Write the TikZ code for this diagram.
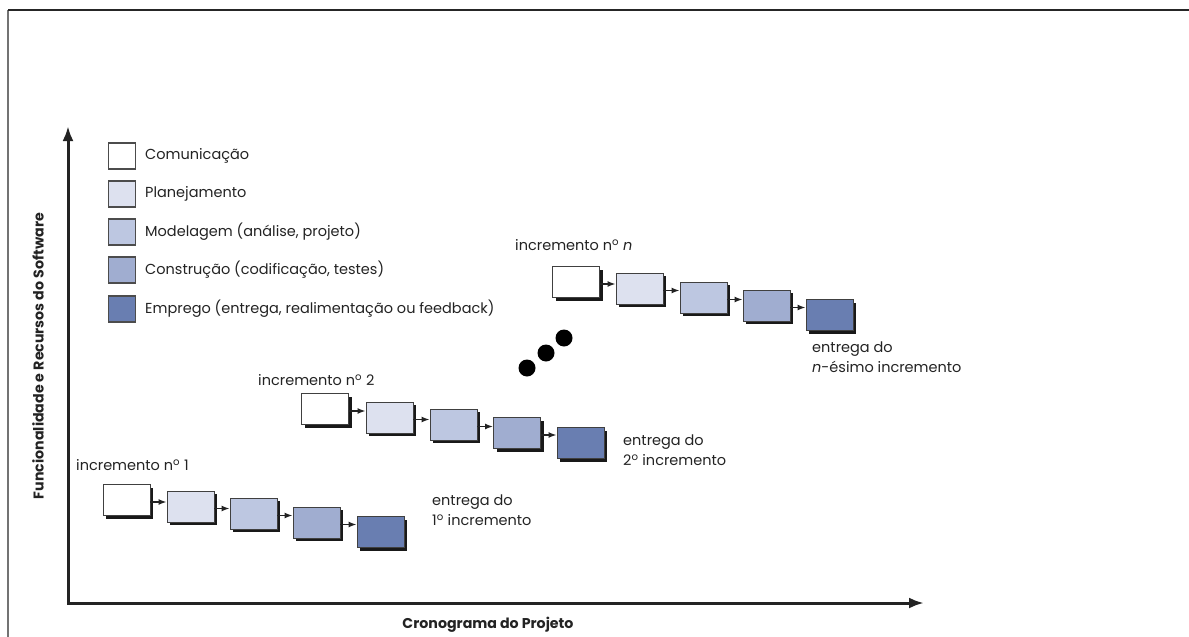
\documentclass[tikz,border=0pt]{standalone}
\usepackage{fontspec}
\setmainfont{Poppins}
\usetikzlibrary{arrows.meta,shadows,calc}

\definecolor{comm}{RGB}{255,255,255}
\definecolor{plan}{RGB}{221,225,239}
\definecolor{model}{RGB}{189,199,225}
\definecolor{constr}{RGB}{160,173,208}
\definecolor{deploy}{RGB}{105,126,177}
\definecolor{ink}{RGB}{35,35,35}

\begin{document}
\begin{tikzpicture}[x=1pt,y=-1pt,
  every node/.style={font=\fontsize{14.5}{20}\selectfont, text=ink},
  phase/.style={draw=black!75, line width=0.9pt, minimum width=47pt, minimum height=31pt,
    inner sep=0pt, drop shadow={shadow xshift=3pt, shadow yshift=-3pt, fill=black!90, opacity=1}},
  key/.style={draw=black!70, line width=1.1pt, minimum width=27pt, minimum height=26pt, inner sep=0pt},
  keytext/.style={anchor=west, inner sep=0pt},
  link/.style={line width=1.5pt, draw=ink, -{Latex[length=8pt,width=6pt]}},
  axis/.style={line width=3pt, draw=ink, {Latex[length=15pt,width=11pt]}-{Latex[length=15pt,width=11pt]}},
  frameline/.style={line width=1.5pt},
  caption/.style={anchor=west, inner sep=0pt},
  delivery/.style={anchor=north west, align=left, inner sep=0pt},
  axislabel/.style={font=\fontsize{14.2}{17}\selectfont\bfseries},
  dot/.style={circle, fill=black, inner sep=0pt, minimum size=17pt}
]
\useasboundingbox (0,0) rectangle (1189,637);

% frame
\draw[frameline, black!55] (8,637) -- (8,10);
\draw[frameline, black!85] (8,10) -- (1189,10);

% axes
\coordinate (ytop) at (68,126);
\coordinate (origin) at (68,603);
\coordinate (xend) at (924,603);
\draw[axis] (ytop) -- (origin) -- (xend);
\node[axislabel] (xlab) at (488,625) {Cronograma do Projeto};
\node[axislabel, rotate=90] (ylab) at (38,356) {Funcionalidade e Recursos do Software};

% legend
\foreach \k/\y/\c/\t in {1/156/comm/Comunicação, 2/194/plan/Planejamento,
    3/232/model/{Modelagem (análise, projeto)}, 4/270/constr/{Construção (codificação, testes)},
    5/309/deploy/{Emprego (entrega, realimentação ou feedback)}}{
  \node[key, fill=\c] (k\k) at (122,\y) {};
  \node[keytext] (kt\k) at (145,\y) {\t};
}

% increment 1
\foreach \i/\x/\y/\c in {1/126.5/500/comm, 2/190.5/506.5/plan, 3/253.5/513.5/model,
    4/316.5/522.5/constr, 5/380.5/532/deploy}
  \node[phase, fill=\c] (a\i) at (\x,\y) {};
% increment 2
\foreach \i/\x/\y/\c in {1/325/409/comm, 2/389.5/417.5/plan, 3/453.5/424.5/model,
    4/517/433/constr, 5/580.5/443/deploy}
  \node[phase, fill=\c] (b\i) at (\x,\y) {};
% increment n
\foreach \i/\x/\y/\c in {1/576/282/comm, 2/639.5/288.5/plan, 3/703.5/297.5/model,
    4/766.5/305.5/constr, 5/829.5/315/deploy}
  \node[phase, fill=\c] (c\i) at (\x,\y) {};

% arrows between phases
\foreach \s in {a,b,c}{
  \foreach \i/\j in {1/2,2/3,3/4,4/5}{
    \path ([yshift=-2pt]\s\i.east) coordinate (\s s\i);
    \draw[link] (\s s\i) -- (\s s\i -| \s\j.west);
  }
}

% captions
\node[caption] (inc1) at (76,465) {incremento n\textsuperscript{o} 1};
\node[caption] (inc2) at (258,380) {incremento n\textsuperscript{o} 2};
\node[caption] (incn) at (515,245) {incremento n\textsuperscript{o} \textit{n}};

\node[delivery] (d1) at (432,495) {entrega do\\1\textsuperscript{o} incremento};
\node[delivery] (d2) at (623,435) {entrega do\\2\textsuperscript{o} incremento};
\node[delivery] (dn) at (812,342) {entrega do\\\textit{n}-ésimo incremento};

% ellipsis dots
\node[dot] (dot1) at (527,368) {};
\node[dot] (dot2) at (546,353) {};
\node[dot] (dot3) at (564,338) {};
\end{tikzpicture}
\end{document}
